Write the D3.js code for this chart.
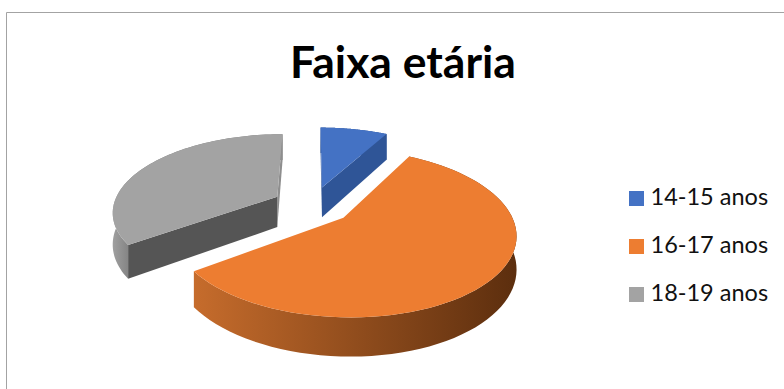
<!DOCTYPE html>
<html>
<head>
<meta charset="utf-8">
<script src="https://d3js.org/d3.v7.min.js"></script>
<style>
html, body { margin: 0; padding: 0; background: #fff; }
svg { display: block; }
</style>
</head>
<body>
<svg id="chart" width="784" height="389"></svg>
<script>
const titleText = "Faixa etária";
const categories = ["14-15 anos", "16-17 anos", "18-19 anos"];
const values = [8, 57, 35];
const topColors = ["#4472c4", "#ed7d31", "#a3a3a3"];
const startFaceColors = ["#2f5597", "#c0652a", "#555555"];
const endFaceColors = ["#2f5597", "#c0652a", "#8e8e8e"];
const wallStops = [
  ["#2f5597", "#2f5597"],
  ["#c66c2c", "#5c2e0e"],
  ["#a0a0a0", "#7c7c7c"]
];
// Share of each wall's width over which its shading runs
const wallShadeSpan = [1, 1, 0.12];

const svg = d3.select("#chart");

// Frame around the chart area
svg.append("path")
  .attr("d", "M6.5,389V12.5H784")
  .attr("fill", "none")
  .attr("stroke", "#a3a3a3")
  .attr("stroke-width", 1);

svg.append("text")
  .attr("x", 403)
  .attr("y", 78)
  .attr("text-anchor", "middle")
  .attr("font-family", "Lato, 'Open Sans', sans-serif")
  .attr("font-weight", 700)
  .attr("font-size", 44.5)
  .attr("fill", "#000")
  .text(titleText);

// Perspective projection of the pie's ground plane: x runs right, z runs toward the viewer.
const view = { cx: 312.4, cy: 205, radius: 164, squash: 76.5, persp: 0.18, depth: 31, explode: 0.245 };

function project(x, z, lowered) {
  const w = 1 - view.persp * z;
  return [
    view.cx + view.radius * x / w,
    view.cy + (view.squash * z + (lowered ? view.depth : 0)) / w
  ];
}

const slices = d3.pie().sort(null).value(d => d)(values);
const line = d3.line();
const defs = svg.append("defs");
const pieGroup = svg.append("g");

slices.forEach((s, i) => {
  const mid = (s.startAngle + s.endAngle) / 2;
  const ox = view.explode * Math.sin(mid);
  const oz = -view.explode * Math.cos(mid);
  const rim = (a, lowered) => project(ox + Math.sin(a), oz - Math.cos(a), lowered);
  const steps = d3.range(0, 73).map(k => s.startAngle + (s.endAngle - s.startAngle) * k / 72);

  const apexTop = project(ox, oz, false);
  const apexBottom = project(ox, oz, true);
  const topRim = steps.map(a => rim(a, false));
  const bottomRim = steps.map(a => rim(a, true));
  const g = pieGroup.append("g").attr("class", "slice").attr("data-category", categories[i]);

  // Outer wall, shaded left to right across its own width
  const wallPts = topRim.concat(bottomRim.slice().reverse());
  const gradId = "wall" + i;
  const [x0, x1] = d3.extent(wallPts, p => p[0]);
  const grad = defs.append("linearGradient")
    .attr("id", gradId)
    .attr("gradientUnits", "userSpaceOnUse")
    .attr("x1", x0).attr("x2", x0 + (x1 - x0) * wallShadeSpan[i]).attr("y1", 0).attr("y2", 0);
  grad.append("stop").attr("offset", 0).attr("stop-color", wallStops[i][0]);
  grad.append("stop").attr("offset", 1).attr("stop-color", wallStops[i][1]);
  g.append("path").attr("d", line(wallPts) + "Z").attr("fill", `url(#${gradId})`);

  // Radial cut faces, kept only when they turn toward the viewer
  // (d3.polygonArea is positive for counterclockwise rings in y-down screen space)
  const endQuad = [apexTop, topRim[72], bottomRim[72], apexBottom];
  if (d3.polygonArea(endQuad) < 0) {
    g.append("path").attr("d", line(endQuad) + "Z").attr("fill", endFaceColors[i]);
  }
  const startQuad = [apexTop, topRim[0], bottomRim[0], apexBottom];
  if (d3.polygonArea(startQuad) > 0) {
    g.append("path").attr("d", line(startQuad) + "Z").attr("fill", startFaceColors[i]);
  }

  g.append("path")
    .attr("d", line([apexTop].concat(topRim)) + "Z")
    .attr("fill", topColors[i]);
});

// Legend
const legendY = d3.scalePoint().domain(categories).range([198.5, 294.5]);
const legend = svg.append("g").selectAll("g").data(categories).join("g")
  .attr("transform", d => `translate(0,${legendY(d)})`);
legend.append("rect")
  .attr("x", 629).attr("y", -7.5).attr("width", 15).attr("height", 15)
  .attr("fill", (d, i) => topColors[i]);
legend.append("text")
  .attr("x", 650.5).attr("y", 6.5)
  .attr("font-family", "Lato, 'Open Sans', sans-serif")
  .attr("font-size", 23.5)
  .attr("fill", "#111")
  .text(d => d);
</script>
</body>
</html>
